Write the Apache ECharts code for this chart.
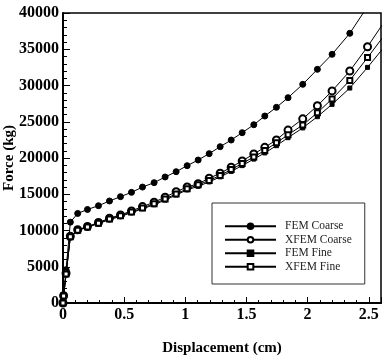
<!DOCTYPE html>
<html>
<head>
<meta charset="utf-8">
<script src="https://cdn.jsdelivr.net/npm/echarts@6/dist/echarts.min.js"></script>
<style>
  html, body { margin: 0; padding: 0; background: #fff; }
  #chart { width: 384px; height: 356px; }
</style>
</head>
<body>
<div id="chart"></div>
<script>
// deslocamento (cm) nos pontos calculados
const deslocamento = [0, 0.005, 0.025, 0.06, 0.12, 0.2, 0.29, 0.38, 0.47, 0.56, 0.65, 0.745,
  0.835, 0.925, 1.015, 1.105, 1.195, 1.285, 1.375, 1.465, 1.56, 1.65, 1.745, 1.84,
  1.96, 2.08, 2.2, 2.345, 2.49, 2.635];

// forca (kg) de cada malha
const femCoarse = [0, 1000, 4600, 11150, 12350, 12900, 13420, 14070, 14670, 15260, 15990, 16600,
  17380, 18110, 18940, 19720, 20600, 21560, 22480, 23490, 24590, 25790, 26990, 28320,
  30160, 32230, 34300, 37200, 40900, 45000];
const xfemCoarse = [0, 1000, 4100, 9200, 10100, 10550, 11100, 11700, 12150, 12700, 13300, 13900,
  14600, 15350, 16000, 16450, 17200, 17900, 18720, 19600, 20550, 21470, 22500, 23850,
  25400, 27200, 29250, 32000, 35350, 39000];
const femFine = [0, 900, 3900, 9100, 10000, 10450, 10950, 11500, 11950, 12450, 13000, 13550,
  14200, 14900, 15600, 16100, 16700, 17400, 18150, 18950, 19850, 20700, 21700, 22800,
  24150, 25700, 27400, 29650, 32500, 35500];
const xfemFine = [0, 950, 4000, 9150, 10050, 10500, 11000, 11600, 12050, 12550, 13100, 13700,
  14350, 15050, 15750, 16300, 16900, 17600, 18400, 19250, 20150, 21050, 22100, 23200,
  24550, 26250, 28150, 30700, 33850, 37100];

const rotulosX = [0, 0.5, 1, 1.5, 2, 2.5];

const fonte = '"Liberation Serif", "Times New Roman", serif';

function pares(ys) {
  return deslocamento.map((x, i) => [x, ys[i]]);
}

function serie(nome, ys, simbolo, tamanho) {
  return {
    name: nome,
    type: 'line',
    data: pares(ys),
    symbol: simbolo,
    symbolSize: tamanho,
    clip: true,
    color: '#000',
    lineStyle: { color: '#000', width: 1 },
    itemStyle: { color: '#000', borderColor: '#000', borderWidth: 1 },
    emphasis: { disabled: true },
    z: 3
  };
}

const chart = echarts.init(document.getElementById('chart'));

chart.setOption({
  animation: false,
  backgroundColor: '#fff',
  grid: {
    left: 63, right: 3, top: 13, bottom: 53,
    containLabel: false,
    outerBoundsMode: 'none',
    show: true, borderColor: '#000', borderWidth: 1.5, backgroundColor: 'transparent'
  },
  legend: {
    orient: 'vertical',
    left: 212, top: 203,
    padding: [17, 13, 11, 12],
    itemWidth: 51, itemHeight: 7, itemGap: 1,
    backgroundColor: '#fff',
    borderColor: '#333', borderWidth: 1,
    textStyle: { fontFamily: fonte, fontSize: 11.5, color: '#222', lineHeight: 12.5, padding: [0, 0, 0, 4] },
    data: ['FEM Coarse', 'XFEM Coarse', 'FEM Fine', 'XFEM Fine']
  },
  xAxis: {
    type: 'value',
    min: 0, max: 2.6, interval: 0.5,
    name: 'Displacement (cm)',
    nameLocation: 'middle',
    nameGap: 38,
    nameMoveOverlap: false,
    nameTextStyle: { fontFamily: fonte, fontSize: 15, fontWeight: 'bold', color: '#000' },
    axisLine: { show: true, lineStyle: { color: '#000', width: 2 } },
    axisTick: { show: true, inside: true, length: 6, lineStyle: { color: '#000', width: 1 } },
    minorTick: { show: true, splitNumber: 5, length: 3, lineStyle: { color: '#000', width: 1 } },
    splitLine: { show: false },
    axisLabel: {
      fontFamily: fonte, fontSize: 16, fontWeight: 'bold', color: '#000', margin: 4,
      showMaxLabel: false,
      formatter: v => rotulosX.includes(+v.toFixed(2)) ? String(+v.toFixed(2)) : ''
    }
  },
  yAxis: {
    type: 'value',
    min: 0, max: 40000, interval: 5000,
    name: 'Force (kg)',
    nameLocation: 'middle',
    nameGap: 46,
    nameMoveOverlap: false,
    nameTextStyle: { fontFamily: fonte, fontSize: 15, fontWeight: 'bold', color: '#000' },
    axisLine: { show: true, lineStyle: { color: '#000', width: 2 } },
    axisTick: { show: true, inside: true, length: 7, lineStyle: { color: '#000', width: 1 } },
    minorTick: { show: true, splitNumber: 5, length: 4, lineStyle: { color: '#000', width: 1 } },
    splitLine: { show: false },
    axisLabel: {
      fontFamily: fonte, fontSize: 16, fontWeight: 'bold', color: '#000', margin: 4,
      formatter: v => String(v)
    }
  },
  series: [
    serie('FEM Coarse', femCoarse, 'circle', 6),
    serie('XFEM Coarse', xfemCoarse, 'emptyCircle', 7),
    serie('FEM Fine', femFine, 'rect', 4),
    serie('XFEM Fine', xfemFine, 'emptyRect', 5)
  ]
});
</script>
</body>
</html>
